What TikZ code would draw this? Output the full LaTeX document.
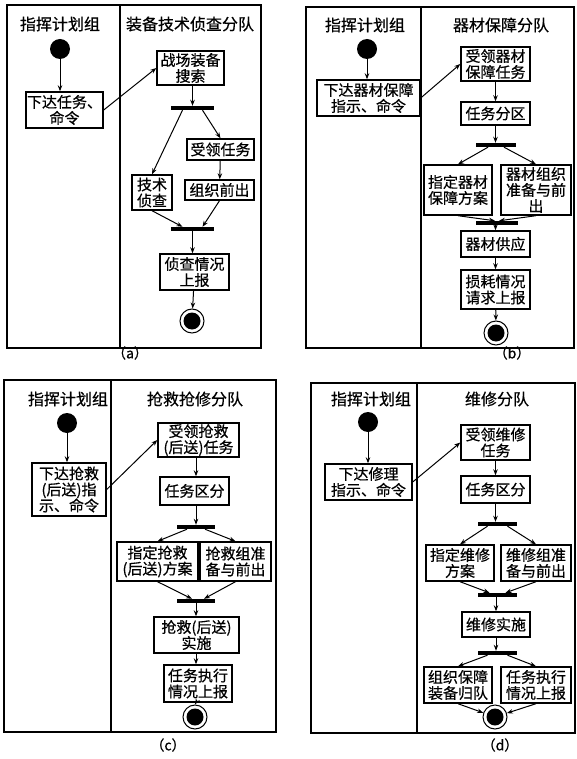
\documentclass[tikz,border=0pt]{standalone}
\usepackage{fontspec}
\newfontfamily\cjk[FakeBold=0.6]{Noto Sans CJK SC}
\usetikzlibrary{arrows.meta}

\begin{document}
\begin{tikzpicture}[
    x=1pt, y=-1pt,
    act_box/.style={rectangle, draw, line width=1.4pt, inner sep=1pt, align=center, font=\cjk\fontsize{15}{16}\selectfont},
    bar_node/.style={rectangle, fill=black, minimum height=4pt, inner sep=0pt},
    start_node/.style={circle, fill=black, minimum size=20pt, inner sep=0pt},
    end_node/.style={circle, draw, line width=1pt, minimum size=24pt, inner sep=0pt, path picture={\fill (path picture bounding box.center) circle (8.5pt);}},
    lane_title/.style={font=\cjk\fontsize{16}{16}\selectfont},
    sub_caption/.style={font=\cjk\fontsize{14}{14}\selectfont},
    lane/.style={line width=1.3pt},
    arrow/.style={-{Stealth[length=6pt, width=4.5pt]}, line width=1pt}
]
    \useasboundingbox (0,0) rectangle (576,759);

    % ---------------- (a) ----------------
    \draw[lane] (7,5) rectangle (261,348);
    \draw[lane] (120,5) -- (120,348);
    \node[lane_title] (ta1) at (60,24) {指挥计划组};
    \node[lane_title] (ta2) at (190,24) {装备技术侦查分队};

    % Nodes
    \node[start_node] (a0) at (60,49) {};
    \node[act_box, minimum width=75pt, minimum height=36pt] (a1) at (64.5,110) {下达任务、\\命令};
    \node[act_box, minimum width=67pt, minimum height=34pt] (a2) at (190.5,68) {战场装备\\搜索};
    \node[bar_node, minimum width=43pt] (af1) at (192.5,108) {};
    \node[act_box, minimum width=67pt, minimum height=21pt] (a3) at (220.5,149.5) {受领任务};
    \node[act_box, minimum width=40pt, minimum height=35pt] (a4) at (152,192.5) {技术\\侦查};
    \node[act_box, minimum width=69pt, minimum height=20pt] (a5) at (219.5,190) {组织前出};
    \node[bar_node, minimum width=43pt] (aj1) at (192.5,229) {};
    \node[act_box, minimum width=69pt, minimum height=36pt] (a6) at (194.5,272) {侦查情况\\上报};
    \node[end_node] (a7) at (192,321) {};
    \node[sub_caption] (ca) at (130,353) {（a）};

    % Arrows
    \draw[arrow] (a0) -- (a0 |- a1.north);
    \draw[arrow] (a1.east) -- (a2.west);
    \draw[arrow] (af1 |- a2.south) -- (af1.north);
    \draw[arrow] ([xshift=-10pt]af1.south) -- (a4.north);
    \draw[arrow] ([xshift=10pt]af1.south) -- (a3.north);
    \draw[arrow] (a3) -- (a5);
    \draw[arrow] (a4.south) -- ([xshift=-10pt]aj1.north);
    \draw[arrow] (a5.south) -- ([xshift=10pt]aj1.north);
    \draw[arrow] (aj1.south) -- (aj1 |- a6.north);
    \draw[arrow] (a6) -- (a7);

    % ---------------- (b) ----------------
    \draw[lane] (306,7) rectangle (574,348);
    \draw[lane] (421,7) -- (421,348);
    \node[lane_title] (tb1) at (365,25) {指挥计划组};
    \node[lane_title] (tb2) at (501,25) {器材保障分队};

    % Nodes
    \node[start_node] (b0) at (367,49) {};
    \node[act_box, minimum width=103pt, minimum height=36pt] (b1) at (368.5,98) {下达器材保障\\指示、命令};
    \node[act_box, minimum width=69pt, minimum height=34pt] (b2) at (495.5,64) {受领器材\\保障任务};
    \node[act_box, minimum width=69pt, minimum height=23pt] (b3) at (495.5,113.5) {任务分区};
    \node[bar_node, minimum width=40pt] (bf1) at (496,145) {};
    \node[act_box, minimum width=68pt, minimum height=50pt] (b4) at (458,190) {指定器材\\保障方案};
    \node[act_box, minimum width=70pt, minimum height=50pt] (b5) at (536,190) {器材组织\\准备与前\\出};
    \node[bar_node, minimum width=42pt] (bj1) at (497,223) {};
    \node[act_box, minimum width=69pt, minimum height=26pt] (b6) at (495.5,244) {器材供应};
    \node[act_box, minimum width=69pt, minimum height=39pt] (b7) at (495.5,289.5) {损耗情况\\请求上报};
    \node[end_node] (b8) at (496,333) {};
    \node[sub_caption] (cb) at (512,353) {（b）};

    % Arrows
    \draw[arrow] (b0) -- (b0 |- b1.north);
    \draw[arrow] (b1.east) -- (b2.west);
    \draw[arrow] (b2) -- (b3);
    \draw[arrow] (b3.south) -- (b3.south |- bf1.north);
    \draw[arrow] ([xshift=-8pt]bf1.south) -- (b4.north);
    \draw[arrow] ([xshift=8pt]bf1.south) -- (b5.north);
    \draw[arrow] (b4.south) -- ([xshift=-2pt]bj1.north);
    \draw[arrow] (b5.south) -- ([xshift=2pt]bj1.north);
    \draw[arrow] (b6.north |- bj1.south) -- (b6.north);
    \draw[arrow] (b6) -- (b7);
    \draw[arrow] (b7) -- (b8);

    % ---------------- (c) ----------------
    \draw[lane] (4,380) rectangle (276,732);
    \draw[lane] (111,380) -- (111,732);
    \node[lane_title] (tc1) at (68,399) {指挥计划组};
    \node[lane_title] (tc2) at (195,399) {抢救抢修分队};

    % Nodes
    \node[start_node] (c0) at (67,423) {};
    \node[act_box, minimum width=74pt, minimum height=53pt] (c1) at (69,489.5) {下达抢救\\(后送)指\\示、命令};
    \node[act_box, minimum width=81pt, minimum height=34pt] (c2) at (198.5,440) {受领抢救\\(后送)任务};
    \node[act_box, minimum width=69pt, minimum height=28pt] (c3) at (194.5,491) {任务区分};
    \node[bar_node, minimum width=38pt] (cf1) at (196,527) {};
    \node[act_box, minimum width=81pt, minimum height=39pt] (c4) at (157.5,561.5) {指定抢救\\(后送)方案};
    \node[act_box, minimum width=71pt, minimum height=39pt] (c5) at (235.5,561.5) {抢救组准\\备与前出};
    \node[bar_node, minimum width=38pt] (cj1) at (196,601) {};
    \node[act_box, minimum width=85pt, minimum height=36pt] (c6) at (196.5,635) {抢救(后送)\\实施};
    \node[act_box, minimum width=68pt, minimum height=37pt] (c7) at (198,683.5) {任务执行\\情况上报};
    \node[end_node] (c8) at (195,717) {};
    \node[sub_caption] (cc) at (168,745) {（c）};

    % Arrows
    \draw[arrow] (c0) -- (c0 |- c1.north);
    \draw[arrow] (c1.east) -- (c2.west);
    \draw[arrow] (cf1 |- c2.south) -- (cf1 |- c3.north);
    \draw[arrow] (cf1 |- c3.south) -- (cf1.north);
    \draw[arrow] ([xshift=-9pt]cf1.south) -- (c4.north);
    \draw[arrow] ([xshift=9pt]cf1.south) -- (c5.north);
    \draw[arrow] (c4.south) -- ([xshift=-4pt]cj1.north);
    \draw[arrow] (c5.south) -- ([xshift=8pt]cj1.north);
    \draw[arrow] (cj1.south) -- (cj1 |- c6.north);
    \draw[arrow] (cj1 |- c6.south) -- (cj1 |- c7.north);
    \draw[arrow] (cj1 |- c7.south) -- (c8.north);

    % ---------------- (d) ----------------
    \draw[lane] (311,383) rectangle (575,733);
    \draw[lane] (417,383) -- (417,733);
    \node[lane_title] (td1) at (371,399) {指挥计划组};
    \node[lane_title] (td2) at (497,399) {维修分队};

    % Nodes
    \node[start_node] (d0) at (368,422) {};
    \node[act_box, minimum width=87pt, minimum height=36pt] (d1) at (368.5,482) {下达修理\\指示、命令};
    \node[act_box, minimum width=69pt, minimum height=35pt] (d2) at (495.5,442.5) {受领维修\\任务};
    \node[act_box, minimum width=69pt, minimum height=27pt] (d3) at (495.5,489.5) {任务区分};
    \node[bar_node, minimum width=39pt] (df1) at (497.5,524) {};
    \node[act_box, minimum width=68pt, minimum height=36pt] (d4) at (460,563) {指定维修\\方案};
    \node[act_box, minimum width=70pt, minimum height=36pt] (d5) at (536,563) {维修组准\\备与前出};
    \node[bar_node, minimum width=39pt] (dj1) at (497.5,595) {};
    \node[act_box, minimum width=68pt, minimum height=25pt] (d6) at (496,624.5) {维修实施};
    \node[bar_node, minimum width=39pt] (df2) at (497.5,653) {};
    \node[act_box, minimum width=68pt, minimum height=36pt] (d7) at (458,685) {组织保障\\装备归队};
    \node[act_box, minimum width=70pt, minimum height=36pt] (d8) at (536,685) {任务执行\\情况上报};
    \node[end_node] (d9) at (495,717) {};
    \node[sub_caption] (cd) at (500,745) {（d）};

    % Arrows
    \draw[arrow] (d0) -- (d0 |- d1.north);
    \draw[arrow] (d1.east) -- (d2.west);
    \draw[arrow] (d2) -- (d3);
    \draw[arrow] (d3.south) -- (d3.south |- df1.north);
    \draw[arrow] ([xshift=-10pt]df1.south) -- (d4.north);
    \draw[arrow] ([xshift=10pt]df1.south) -- (d5.north);
    \draw[arrow] (d4.south) -- ([xshift=-8pt]dj1.north);
    \draw[arrow] (d5.south) -- ([xshift=8pt]dj1.north);
    \draw[arrow] (d6.north |- dj1.south) -- (d6.north);
    \draw[arrow] (d6.south) -- (d6.south |- df2.north);
    \draw[arrow] ([xshift=-10pt]df2.south) -- (d7.north);
    \draw[arrow] ([xshift=10pt]df2.south) -- (d8.north);
    \draw[arrow] (d7.south) -- (d9);
    \draw[arrow] (d8.south) -- (d9);
\end{tikzpicture}
\end{document}
